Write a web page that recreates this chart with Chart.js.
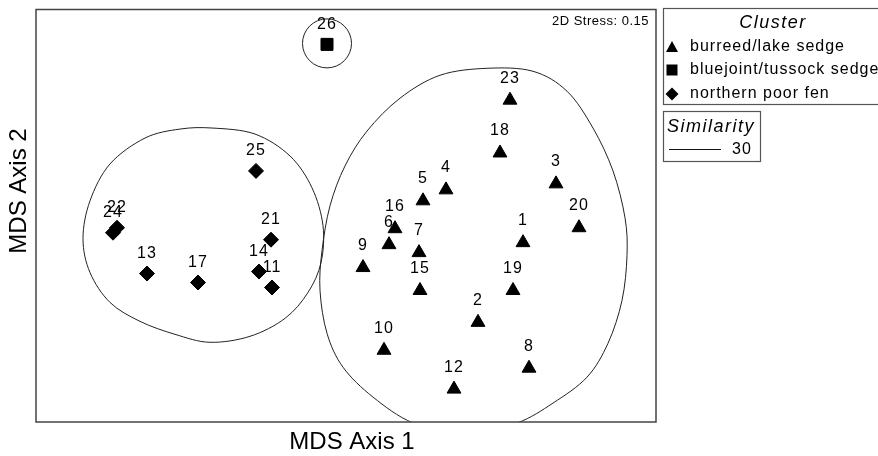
<!DOCTYPE html>
<html>
<head>
<meta charset="utf-8">
<script src="https://cdn.jsdelivr.net/npm/chart.js@4.4.1/dist/chart.umd.min.js"></script>
<style>
  body { margin: 0; background: #fff; }
  #wrap { width: 878px; height: 456px; }
</style>
</head>
<body>
<div id="wrap"><canvas id="mdsChart" width="878" height="456"></canvas></div>
<script>
// MDS scores per site
const burreedIds = [1, 2, 3, 4, 5, 6, 7, 8, 9, 10, 12, 15, 16, 18, 19, 20, 23];
const burreedX = [1.77, 1.32, 2.10, 1.00, 0.77, 0.43, 0.73, 1.83, 0.17, 0.38, 1.08, 0.74, 0.49, 1.54, 1.67, 2.33, 1.64];
const burreedY = [-0.27, -1.07, 0.32, 0.26, 0.15, -0.29, -0.37, -1.53, -0.52, -1.35, -1.74, -0.75, -0.13, 0.63, -0.75, -0.12, 1.16];

const bluejointIds = [26];
const bluejointX = [-0.19];
const bluejointY = [1.72];

const fenIds = [11, 13, 14, 17, 21, 22, 24, 25];
const fenX = [-0.74, -1.99, -0.87, -1.48, -0.75, -2.29, -2.33, -0.90];
const fenY = [-0.72, -0.58, -0.56, -0.67, -0.24, -0.12, -0.17, 0.45];

// 30% similarity outlines (MDS units)
const ringCenter = [-0.19, 1.73];
const ringRadius = 0.245;
const fenOutline = [
  [-1.33, 0.88], [-0.91, 0.82], [-0.56, 0.60], [-0.34, 0.28], [-0.23, -0.10],
  [-0.25, -0.47], [-0.38, -0.77], [-0.61, -1.03], [-0.96, -1.21], [-1.36, -1.27],
  [-1.71, -1.19], [-2.06, -1.06], [-2.36, -0.87], [-2.56, -0.57], [-2.63, -0.23],
  [-2.56, 0.15], [-2.36, 0.52], [-2.01, 0.78], [-1.66, 0.87]
];
const burreedOutline = [
  [1.41, 1.48], [1.87, 1.45], [2.21, 1.25], [2.47, 0.88], [2.67, 0.45],
  [2.79, -0.02], [2.81, -0.40], [2.76, -0.85], [2.62, -1.28], [2.41, -1.62],
  [2.07, -1.88], [1.71, -2.08], [1.19, -2.21], [0.67, -2.08], [0.27, -1.82],
  [-0.03, -1.52], [-0.19, -1.18], [-0.26, -0.75], [-0.24, -0.35], [-0.16, 0.10],
  [-0.01, 0.50], [0.21, 0.85], [0.54, 1.18], [0.94, 1.41]
];

const xRange = [-3.10, 3.10];
const yRange = [-2.07, 2.07];
const stressText = '2D Stress: 0.15';

const FONT = '"Liberation Sans", Arial, sans-serif';

function toPoints(xs, ys) {
  return xs.map((x, i) => ({ x: x, y: ys[i] }));
}

// closed catmull-rom curve through the outline
function smoothPath(ctx, pts) {
  const n = pts.length;
  ctx.beginPath();
  ctx.moveTo(pts[0][0], pts[0][1]);
  for (let i = 0; i < n; i++) {
    const p0 = pts[(i - 1 + n) % n], p1 = pts[i], p2 = pts[(i + 1) % n], p3 = pts[(i + 2) % n];
    ctx.bezierCurveTo(
      p1[0] + (p2[0] - p0[0]) / 6, p1[1] + (p2[1] - p0[1]) / 6,
      p2[0] - (p3[0] - p1[0]) / 6, p2[1] - (p3[1] - p1[1]) / 6,
      p2[0], p2[1]);
  }
  ctx.closePath();
}

const outlinePlugin = {
  id: 'outlines',
  beforeDatasetsDraw(chart) {
    const { ctx, chartArea, scales } = chart;
    const px = v => [scales.x.getPixelForValue(v[0]), scales.y.getPixelForValue(v[1])];
    ctx.save();
    ctx.beginPath();
    ctx.rect(chartArea.left, chartArea.top, chartArea.right - chartArea.left, chartArea.bottom - chartArea.top);
    ctx.clip();
    ctx.strokeStyle = '#222';
    ctx.lineWidth = 1;
    smoothPath(ctx, fenOutline.map(px));
    ctx.stroke();
    smoothPath(ctx, burreedOutline.map(px));
    ctx.stroke();
    const c = px(ringCenter);
    const r = scales.x.getPixelForValue(ringCenter[0] + ringRadius) - c[0];
    ctx.beginPath();
    ctx.arc(c[0], c[1], r, 0, Math.PI * 2);
    ctx.stroke();
    ctx.restore();
  }
};

const decorPlugin = {
  id: 'decor',
  afterDatasetsDraw(chart) {
    const { ctx, chartArea } = chart;
    ctx.save();
    ctx.fillStyle = '#000';

    // site number labels above markers
    ctx.font = '16px ' + FONT;
    ctx.letterSpacing = '1px';
    ctx.textAlign = 'center';
    ctx.textBaseline = 'middle';
    chart.data.datasets.forEach((ds, di) => {
      const meta = chart.getDatasetMeta(di);
      meta.data.forEach((pt, i) => {
        const lift = ds.pointStyle === 'triangle' ? 22 : 20;
        ctx.fillText(String(ds.ids[i]), pt.x, pt.y - lift);
      });
    });

    // plot frame
    ctx.strokeStyle = '#444';
    ctx.lineWidth = 1.5;
    ctx.strokeRect(chartArea.left, chartArea.top, chartArea.right - chartArea.left, chartArea.bottom - chartArea.top);

    // stress
    ctx.font = '13px ' + FONT;
    ctx.letterSpacing = '0.5px';
    ctx.textAlign = 'right';
    ctx.fillText(stressText, chartArea.right - 7, 21);

    // axis titles
    ctx.font = '24px ' + FONT;
    ctx.letterSpacing = '0px';
    ctx.textAlign = 'center';
    ctx.fillText('MDS Axis 1', 352, 442);
    ctx.save();
    ctx.translate(19, 191);
    ctx.rotate(-Math.PI / 2);
    ctx.fillText('MDS Axis 2', 0, 0);
    ctx.restore();

    // cluster legend
    ctx.strokeStyle = '#555';
    ctx.lineWidth = 1.2;
    ctx.strokeRect(663.5, 8.5, 240, 96);
    ctx.font = 'italic 18px ' + FONT;
    ctx.letterSpacing = '1.5px';
    ctx.fillText('Cluster', 773, 23);
    ctx.font = '16px ' + FONT;
    ctx.letterSpacing = '1px';
    ctx.textAlign = 'left';
    const names = chart.data.datasets.map(d => d.label);
    const rowY = [47, 70, 94];
    names.forEach((name, i) => ctx.fillText(name, 690, rowY[i]));
    ctx.beginPath();
    ctx.moveTo(672, 41); ctx.lineTo(678, 52); ctx.lineTo(666, 52); ctx.closePath();
    ctx.fill();
    ctx.fillRect(666.5, 64.5, 11, 11);
    ctx.beginPath();
    ctx.moveTo(672, 87.5); ctx.lineTo(678.5, 94); ctx.lineTo(672, 100.5); ctx.lineTo(665.5, 94); ctx.closePath();
    ctx.fill();

    // similarity legend
    ctx.strokeRect(663.5, 111.5, 97, 50);
    ctx.font = 'italic 18px ' + FONT;
    ctx.letterSpacing = '1.5px';
    ctx.textAlign = 'center';
    ctx.fillText('Similarity', 711, 127);
    ctx.beginPath();
    ctx.strokeStyle = '#111';
    ctx.lineWidth = 1;
    ctx.moveTo(669, 149.5); ctx.lineTo(721, 149.5);
    ctx.stroke();
    ctx.font = '16px ' + FONT;
    ctx.letterSpacing = '1px';
    ctx.fillText('30', 742, 150);
    ctx.restore();
  }
};

const ctx = document.getElementById('mdsChart');

new Chart(ctx, {
  type: 'scatter',
  data: {
    datasets: [
      {
        label: 'burreed/lake sedge',
        ids: burreedIds,
        data: toPoints(burreedX, burreedY),
        pointStyle: 'triangle',
        pointRadius: 8,
        backgroundColor: '#000',
        borderColor: '#000',
        borderWidth: 1
      },
      {
        label: 'bluejoint/tussock sedge',
        ids: bluejointIds,
        data: toPoints(bluejointX, bluejointY),
        pointStyle: 'rect',
        pointRadius: 8.5,
        backgroundColor: '#000',
        borderColor: '#000',
        borderWidth: 1
      },
      {
        label: 'northern poor fen',
        ids: fenIds,
        data: toPoints(fenX, fenY),
        pointStyle: 'rectRot',
        pointRadius: 7.5,
        backgroundColor: '#000',
        borderColor: '#000',
        borderWidth: 1
      }
    ]
  },
  options: {
    responsive: false,
    animation: false,
    events: [],
    layout: { padding: { left: 36, top: 8, right: 222, bottom: 34 } },
    plugins: {
      legend: { display: false },
      tooltip: { enabled: false }
    },
    scales: {
      x: { type: 'linear', min: xRange[0], max: xRange[1], display: false },
      y: { type: 'linear', min: yRange[0], max: yRange[1], display: false }
    }
  },
  plugins: [outlinePlugin, decorPlugin]
});
</script>
</body>
</html>
